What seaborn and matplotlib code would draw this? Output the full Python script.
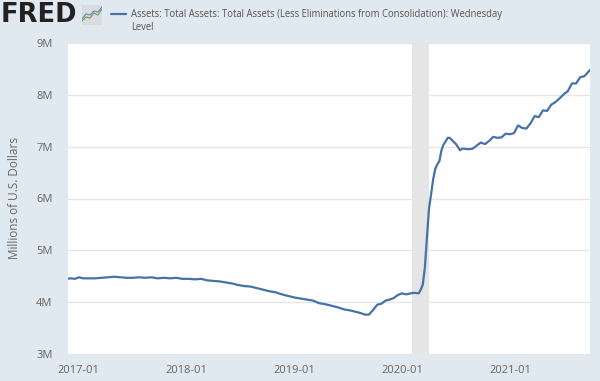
# FRED total assets chart

import pandas as pd
import numpy as np

import matplotlib
matplotlib.use('Agg')
import matplotlib.pyplot as plt
import matplotlib.dates as mdates
import seaborn as sns
sns.set_style("white")
plt.rcParams['font.family'] = ['Open Sans', 'DejaVu Sans']

# Data
dates = ['2016-11-23', '2016-12-07', '2016-12-21', '2017-01-04', '2017-01-18', '2017-02-08', '2017-03-01', '2017-03-22',
         '2017-04-12', '2017-05-03', '2017-05-24', '2017-06-14', '2017-07-05', '2017-07-26', '2017-08-16', '2017-09-06',
         '2017-09-27', '2017-10-18', '2017-11-08', '2017-11-29', '2017-12-20', '2018-01-10', '2018-01-31', '2018-02-21',
         '2018-03-14', '2018-04-04', '2018-04-25', '2018-05-16', '2018-06-06', '2018-06-27', '2018-07-18', '2018-08-08',
         '2018-08-29', '2018-09-19', '2018-10-10', '2018-10-31', '2018-11-21', '2018-12-12', '2019-01-02', '2019-01-23',
         '2019-02-13', '2019-03-06', '2019-03-27', '2019-04-17', '2019-05-08', '2019-05-29', '2019-06-19', '2019-07-10',
         '2019-07-31', '2019-08-14', '2019-08-28', '2019-09-11', '2019-09-25', '2019-10-09', '2019-10-23', '2019-11-06',
         '2019-11-20', '2019-12-04', '2019-12-18', '2020-01-01', '2020-01-15', '2020-01-29', '2020-02-12', '2020-02-26',
         '2020-03-04', '2020-03-11', '2020-03-18', '2020-03-25', '2020-04-01', '2020-04-08', '2020-04-15', '2020-04-22',
         '2020-04-29', '2020-05-06', '2020-05-13', '2020-05-20', '2020-05-27', '2020-06-03', '2020-06-10', '2020-06-17',
         '2020-06-24', '2020-07-01', '2020-07-08', '2020-07-15', '2020-07-22', '2020-07-29', '2020-08-12', '2020-08-26',
         '2020-09-09', '2020-09-23', '2020-10-07', '2020-10-21', '2020-11-04', '2020-11-18', '2020-12-02', '2020-12-16',
         '2020-12-30', '2021-01-13', '2021-01-27', '2021-02-10', '2021-02-24', '2021-03-10', '2021-03-24', '2021-04-07',
         '2021-04-21', '2021-05-05', '2021-05-19', '2021-06-02', '2021-06-16', '2021-06-30', '2021-07-14', '2021-07-28',
         '2021-08-11', '2021-08-25', '2021-09-08', '2021-09-29']
values = [4.45, 4.46, 4.45, 4.48, 4.46, 4.46, 4.46, 4.47,
          4.48, 4.49, 4.48, 4.47, 4.47, 4.48, 4.47, 4.48,
          4.46, 4.47, 4.46, 4.47, 4.45, 4.45, 4.44, 4.45,
          4.42, 4.41, 4.40, 4.38, 4.36, 4.33, 4.31, 4.30,
          4.27, 4.24, 4.21, 4.19, 4.15, 4.12, 4.09, 4.07,
          4.05, 4.03, 3.98, 3.96, 3.93, 3.90, 3.86, 3.84,
          3.81, 3.79, 3.76, 3.76, 3.85, 3.95, 3.97, 4.03,
          4.05, 4.08, 4.14, 4.17, 4.15, 4.17, 4.18, 4.17,
          4.24, 4.34, 4.67, 5.25, 5.81, 6.08, 6.37, 6.57,
          6.66, 6.72, 6.93, 7.04, 7.10, 7.17, 7.17, 7.13,
          7.09, 7.05, 6.99, 6.93, 6.96, 6.96, 6.95, 6.96,
          7.02, 7.08, 7.05, 7.11, 7.19, 7.17, 7.18, 7.25,
          7.24, 7.26, 7.41, 7.36, 7.35, 7.45, 7.59, 7.57,
          7.70, 7.69, 7.81, 7.86, 7.93, 8.01, 8.07, 8.22,
          8.22, 8.34, 8.36, 8.49]

recession_start = '2020-02-05'
recession_end = '2020-04-01'
year_ticks = ['2017-01-01', '2018-01-01', '2019-01-01', '2020-01-01', '2021-01-01']
y_ticks = [3, 4, 5, 6, 7, 8, 9]
y_labels = ['3M', '4M', '5M', '6M', '7M', '8M', '9M']

legend_text = 'Assets: Total Assets: Total Assets (Less Eliminations from Consolidation): Wednesday\nLevel'

bg_color = '#e1e9f0'
line_color = '#4572a7'
grid_color = '#e6e6e6'
text_color = '#666666'

df = pd.DataFrame({'date': pd.to_datetime(dates), 'assets': values})

fig = plt.figure(figsize=(6, 3.81), dpi=100, facecolor=bg_color)
W, H = 600.0, 381.0
ax = fig.add_axes([68/W, 1-354/H, (590-68)/W, (354-43)/H])

ax.axvspan(pd.to_datetime(recession_start), pd.to_datetime(recession_end), color='#e5e5e5', lw=0, zorder=1)
sns.lineplot(data=df, x='date', y='assets', color=line_color, lw=1.6, ax=ax, zorder=3, errorbar=None)

ax.set_xlim(pd.to_datetime('2016-11-28'), pd.to_datetime('2021-09-27'))
ax.set_ylim(3, 9)
ax.set_yticks(y_ticks)
ax.set_yticklabels(y_labels, fontsize=8, color=text_color)
ax.set_xticks(pd.to_datetime(year_ticks))
ax.xaxis.set_major_formatter(mdates.DateFormatter('%Y-%m'))
ax.tick_params(axis='x', labelsize=8, labelcolor=text_color, color='#c0d0e0', length=7, width=0.8, pad=1)
ax.tick_params(axis='y', length=0, pad=11)
ax.grid(axis='y', color=grid_color, lw=1)
ax.set_axisbelow(True)
for s in ax.spines.values():
    s.set_visible(False)
ax.set_xlabel('')
ax.set_ylabel('')

fig.text(15/W, 1-198/H, 'Millions of U.S. Dollars', rotation=90, fontsize=8.5, color=text_color, ha='center', va='center')

# Header: logo and legend
fig.text(1/W, 1-15/H, 'FRED', fontsize=18.5, fontweight='bold', color='#222222', ha='left', va='center', family='DejaVu Sans')
icon = fig.add_axes([82/W, 1-25/H, 20/W, 20/H], facecolor='#d8dcde')
icon.plot([0, 2, 4, 6, 8, 10], [2, 4, 3.5, 6, 5, 8], color='#7aa06a', lw=0.9)
icon.plot([0, 2, 4, 6, 8, 10], [3, 5.5, 5, 7, 6.5, 9], color='#6f8fb5', lw=0.9)
icon.set_xlim(0, 10)
icon.set_ylim(0, 10)
icon.set_xticks([])
icon.set_yticks([])
for s in icon.spines.values():
    s.set_visible(False)

fig.add_artist(plt.Line2D([111/W, 126/W], [1-14/H, 1-14/H], color=line_color, lw=1.6))
fig.text(131/W, 1-21/H, legend_text, fontsize=6.88, color='#555555', ha='left', va='center', linespacing=1.35)

fig.savefig('out.png', dpi=100, facecolor=bg_color)
